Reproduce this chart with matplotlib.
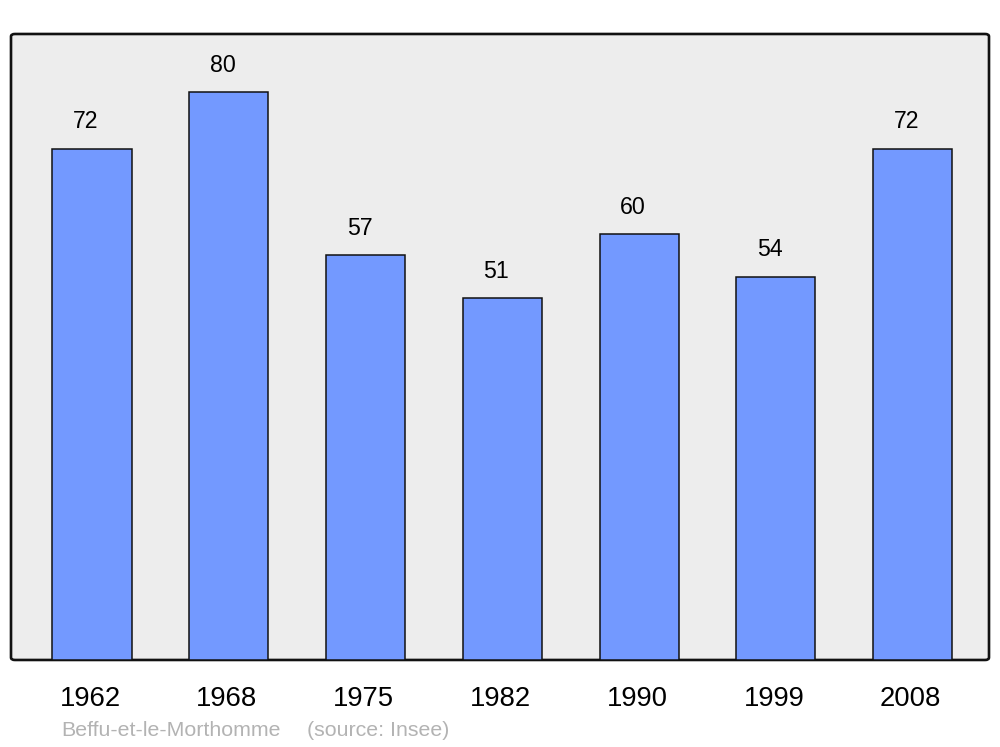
import matplotlib.pyplot as plt
from matplotlib.patches import FancyBboxPatch
from matplotlib.transforms import ScaledTranslation

plt.rcParams['font.family'] = ['Liberation Sans', 'DejaVu Sans']

years = ['1962', '1968', '1975', '1982', '1990', '1999', '2008']
population = [72, 80, 57, 51, 60, 54, 72]

fig = plt.figure(figsize=(10, 7.47), dpi=100)
ax = fig.add_axes([0.011, 0.1165, 0.978, 0.838])
ax.set_facecolor('none')

# rounded grey frame behind the bars
frame = FancyBboxPatch((0, 0), 1, 1, boxstyle='round,pad=0,rounding_size=0.004',
                       transform=ax.transAxes, facecolor='#ededed',
                       edgecolor='#111111', linewidth=1.9, zorder=0, clip_on=False)
ax.add_patch(frame)

x = range(len(years))
bars = ax.bar(x, population, width=0.578, color='#7399ff',
              edgecolor='#111111', linewidth=1.1, zorder=2)

for xi, v in zip(x, population):
    ax.annotate(str(v), (xi, v), xytext=(-6, 27), textcoords='offset pixels',
                ha='center', va='center', fontsize=16.7, color='black')

ax.set_xlim(-0.592, 6.558)
ax.set_ylim(0, 88.2)
ax.set_xticks(list(x))
ax.set_xticklabels(years, fontsize=19.8)
ax.tick_params(axis='x', length=0, pad=19)
shift = ScaledTranslation(-2 / 100, 0, fig.dpi_scale_trans)
for lbl in ax.get_xticklabels():
    lbl.set_transform(lbl.get_transform() + shift)
ax.set_yticks([])
for s in ax.spines.values():
    s.set_visible(False)

fig.text(0.061, 0.0225, 'Beffu-et-le-Morthomme', fontsize=15.4, color='#b3b3b3',
         ha='left', va='center')
fig.text(0.307, 0.0225, '(source: Insee)', fontsize=15.4, color='#b3b3b3',
         ha='left', va='center')

fig.savefig('out.png', dpi=100, facecolor='white')
